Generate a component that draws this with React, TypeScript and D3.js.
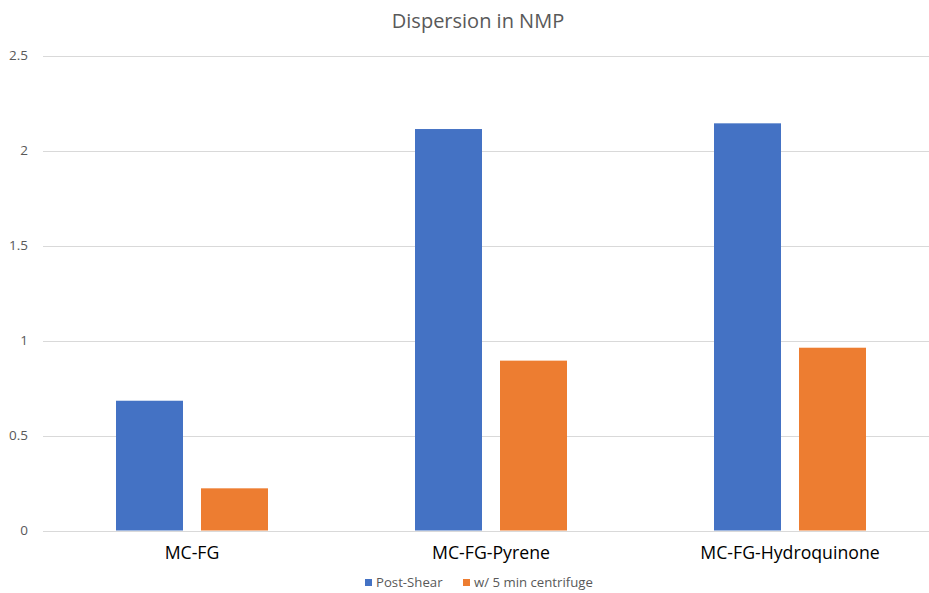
import React from "react";
import * as d3 from "d3";

const categories = ["MC-FG", "MC-FG-Pyrene", "MC-FG-Hydroquinone"];
const seriesNames = ["Post-Shear", "w/ 5 min centrifuge"];
const postShear = [0.683, 2.113, 2.143];
const centrifuge = [0.222, 0.894, 0.962];
const yTicks = [0, 0.5, 1, 1.5, 2, 2.5];
const colors = ["#4472C4", "#ED7D31"];

const W = 929;
const H = 593;

export default function App() {
  const x0 = d3.scaleBand<string>().domain(categories).range([42.5, 939.5]).padding(0);
  const x1 = d3
    .scaleBand<string>()
    .domain(seriesNames)
    .range([0, x0.bandwidth()])
    .paddingInner(18 / 85)
    .paddingOuter(0.8647);
  const y = d3.scaleLinear().domain([0, 2.5]).range([530.5, 55.5]);
  const values = [postShear, centrifuge];
  const font = "'Open Sans', 'Segoe UI', sans-serif";

  return (
    <svg width={W} height={H} style={{ display: "block", position: "absolute", left: 0, top: 0 }}>
      <rect width={W} height={H} fill="#fff" />
      <text x={478} y={28} textAnchor="middle" fontFamily={font} fontSize={20} fill="#595959">
        Dispersion in NMP
      </text>
      {yTicks.map((t) => (
        <g key={t}>
          <line x1={43} x2={W} y1={Math.round(y(t)) + 0.5} y2={Math.round(y(t)) + 0.5} stroke="#D9D9D9" strokeWidth={1} />
          <text x={28} y={y(t)} dy="0.35em" textAnchor="end" fontFamily={font} fontSize={13.5} fill="#595959">
            {t}
          </text>
        </g>
      ))}
      {categories.map((c, i) => (
        <g key={c} transform={`translate(${x0(c)},0)`}>
          {seriesNames.map((s, j) => (
            <rect
              key={s}
              x={x1(s)}
              y={y(values[j][i])}
              width={x1.bandwidth()}
              height={y(0) - y(values[j][i])}
              fill={colors[j]}
            />
          ))}
          <text x={x0.bandwidth() / 2} y={558.5} textAnchor="middle" fontFamily={font} fontSize={17.7} fill="#000">
            {c}
          </text>
        </g>
      ))}
      <g fontFamily={font} fontSize={13.2} fill="#595959">
        <rect x={365} y={579} width={7} height={7} fill={colors[0]} />
        <text x={376} y={587}>{seriesNames[0]}</text>
        <rect x={463} y={579} width={7} height={7} fill={colors[1]} />
        <text x={474} y={587}>{seriesNames[1]}</text>
      </g>
    </svg>
  );
}
